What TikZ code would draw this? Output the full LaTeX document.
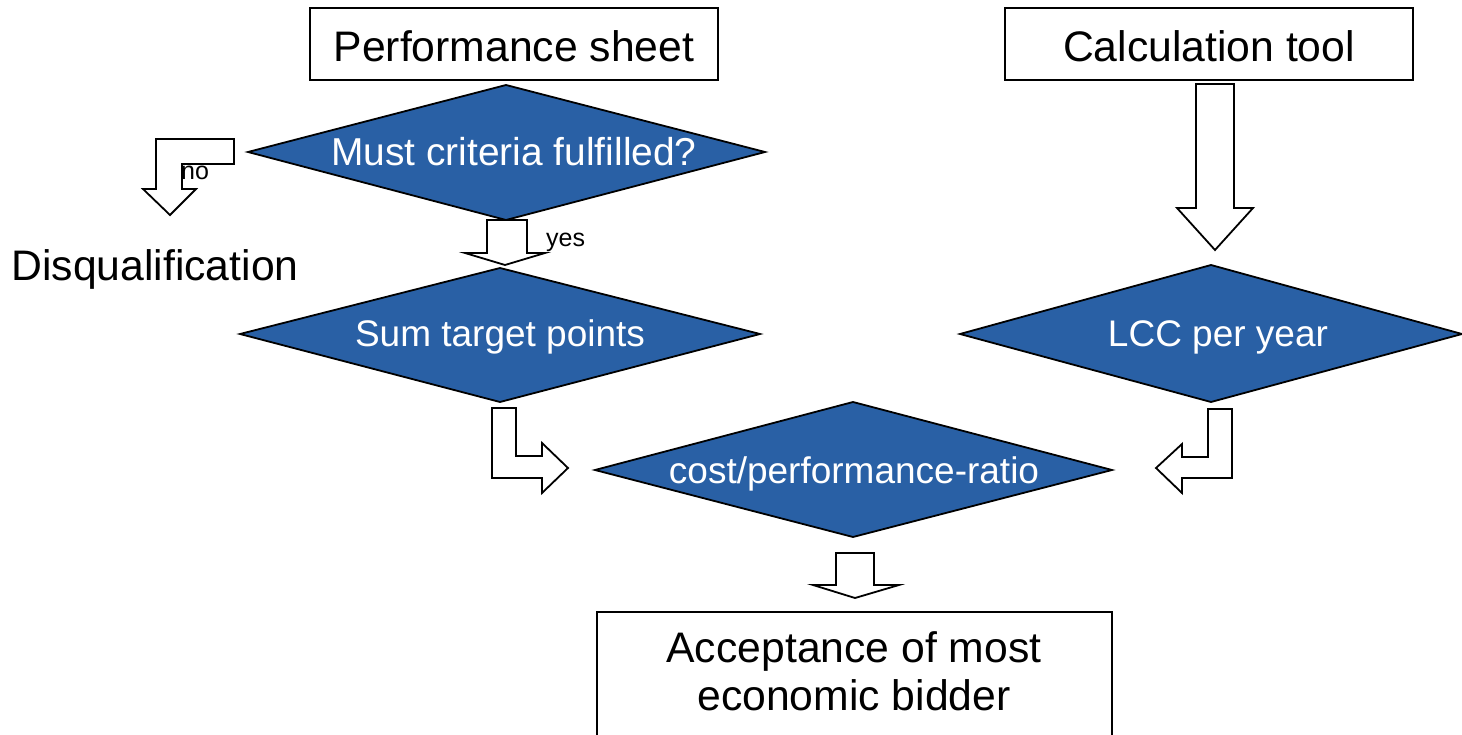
\documentclass[tikz,border=0pt]{standalone}
\usepackage{fontspec}
\setmainfont{Liberation Sans}
\definecolor{diablue}{HTML}{2960A5}
\tikzset{
  box/.style={draw, line width=1.5pt, minimum width=408pt, minimum height=72pt, inner sep=0pt},
  bigfont/.style={font=\fontsize{42.7}{48}\selectfont},
  dia/.style={draw, line width=1.8pt, fill=diablue, line join=miter},
  dtext/.style={text=white, font=\fontsize{37}{44}\selectfont, inner sep=0pt, anchor=base},
  blockarrow/.style={draw, line width=1.8pt, fill=white, line join=miter},
  small/.style={font=\fontsize{25}{29}\selectfont, inner sep=0pt},
  big/.style={bigfont, inner sep=0pt, anchor=base}
}
\begin{document}
\begin{tikzpicture}[x=1pt, y=-1pt]
\clip (0,0) rectangle (1462,735);
\fill[white] (0,0) rectangle (1462,735);

% boxes
\node[box] (perf) at (514,44) {};
\node[big] (perftext) at (514,62) {Performance sheet};
\node[box] (calc) at (1209,44) {};
\node[big] (calctext) at (1209,62) {Calculation tool};
\draw[line width=1.5pt] (597,745) |- (1112,612) -- (1112,745);
\node[big] (accept1) at (854,662) {Acceptance of most};
\node[big] (accept2) at (854,710) {economic bidder};
\node[big] (disq) at (155,281) {Disqualification};

% diamonds
\draw[dia] (248,152) -- (506,85) -- (765,152) -- (506,220) -- cycle;
\node[dtext, font=\fontsize{38.9}{44}\selectfont] (must) at (514,166) {Must criteria fulfilled?};
\draw[dia] (240,334) -- (500,268) -- (760,334) -- (500,402) -- cycle;
\node[dtext] (sum) at (500,346) {Sum target points};
\draw[dia] (960,334) -- (1211,265) -- (1462,334) -- (1211,402) -- cycle;
\node[dtext] (lcc) at (1218,347) {LCC per year};
\draw[dia] (595,470) -- (853,402) -- (1112,470) -- (853,537) -- cycle;
\node[dtext] (ratio) at (854,483) {cost/performance-ratio};

% block arrows
\draw[blockarrow] (156,139) -- (234,139) -- (234,164) -- (182,164) -- (182,189) -- (196,189) -- (170,215) -- (143,189) -- (156,189) -- cycle;
\node[small, anchor=west] (no) at (181,173) {no};
\draw[blockarrow] (487,220) -- (527,220) -- (527,253) -- (545,253) -- (505,265) -- (465,253) -- (487,253) -- cycle;
\node[small, anchor=west] (yes) at (546,242) {yes};
\draw[blockarrow] (492,408) -- (516,408) -- (516,456) -- (542,456) -- (542,443) -- (568,468) -- (542,493) -- (542,478) -- (492,478) -- cycle;
\draw[blockarrow] (1232,409) -- (1232,478) -- (1182,478) -- (1182,493) -- (1156,468) -- (1182,444) -- (1182,457) -- (1208,457) -- (1208,409) -- cycle;
\draw[blockarrow] (836,553) -- (874,553) -- (874,585) -- (899,585) -- (855,598) -- (813,585) -- (836,585) -- cycle;
\draw[blockarrow] (1196,84) -- (1234,84) -- (1234,208) -- (1253,208) -- (1215,250) -- (1177,208) -- (1196,208) -- cycle;
\end{tikzpicture}
\end{document}
